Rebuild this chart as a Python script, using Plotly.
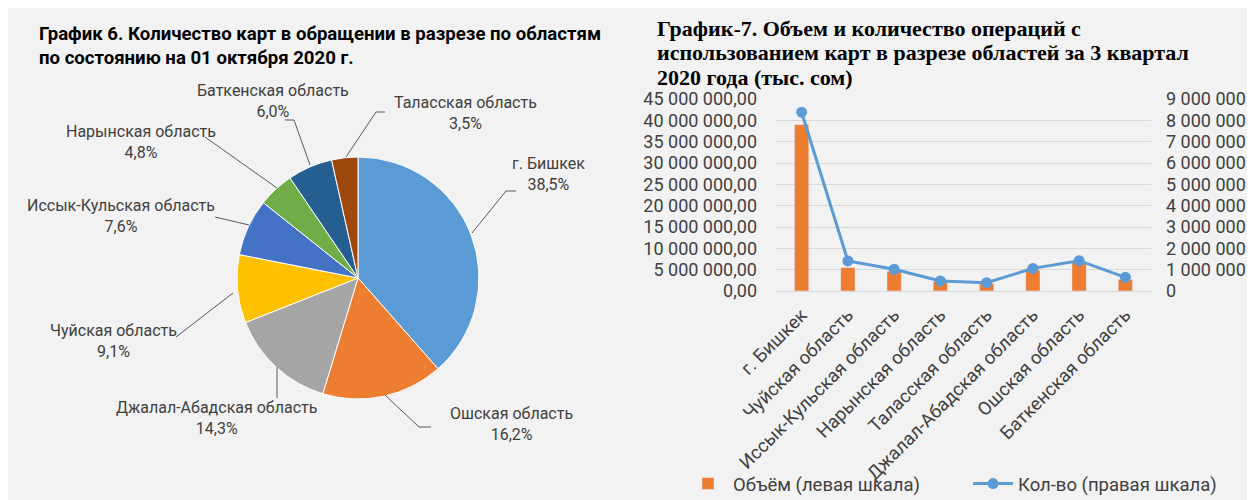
import plotly.graph_objects as go

W, H = 1255, 500
OFF = 8  # page body margin of the viewer

# ---------------- data ----------------
pie_labels = ["г. Бишкек", "Ошская область", "Джалал-Абадская область", "Чуйская область",
              "Иссык-Кульская область", "Нарынская область", "Баткенская область", "Таласская область"]
pie_shares = [38.5, 16.2, 14.3, 9.1, 7.6, 4.8, 6.0, 3.5]
pie_colors = ["#5b9bd5", "#ed7d31", "#a5a5a5", "#ffc000", "#4472c4", "#70ad47", "#255e91", "#9e480e"]

bar_regions = ["г. Бишкек", "Чуйская область", "Иссык-Кульская область", "Нарынская область",
               "Таласская область", "Джалал-Абадская область", "Ошская область", "Баткенская область"]
volume_left = [39000000, 5500000, 4600000, 2200000, 1800000, 4900000, 6900000, 2700000]
count_right = [8380000, 1410000, 1020000, 470000, 390000, 1060000, 1420000, 640000]

title_left_lines = ["График 6. Количество карт в обращении в разрезе по областям",
                    "по состоянию на 01 октября 2020 г."]
title_right_lines = ["График-7. Объем и количество операций с",
                     "использованием карт в разрезе областей за 3 квартал",
                     "2020 года (тыс. сом)"]
legend_bar = "Объём (левая шкала)"
legend_line = "Кол-во (правая шкала)"


def px(x):
    return (x - OFF) / W


def py(y):
    return 1 - (y - OFF) / H


TXT = "#404040"
SANS = "Roboto, Arial, sans-serif"
SERIF = "Liberation Serif, Times New Roman, serif"

fig = go.Figure()

# ---------------- pie ----------------
cx, cy, r = 358, 278, 121
fig.add_trace(go.Pie(
    labels=pie_labels, values=pie_shares, sort=False, direction="clockwise", rotation=0,
    marker=dict(colors=pie_colors, line=dict(color="white", width=1)),
    textinfo="none", showlegend=False, hole=0, automargin=False,
    domain=dict(x=[px(cx - r), px(cx + r)], y=[py(cy + r), py(cy - r)]),
))

# ---------------- bar + line ----------------
fig.add_trace(go.Bar(
    x=bar_regions, y=volume_left, name=legend_bar, marker_color="#ed7d31", width=0.31,
    xaxis="x", yaxis="y",
))
fig.add_trace(go.Scatter(
    x=bar_regions, y=count_right, name=legend_line, mode="lines+markers",
    line=dict(color="#5b9bd5", width=3), marker=dict(color="#5b9bd5", size=11),
    xaxis="x", yaxis="y2",
))

# pie label positions (text centre in px) and leader line paths (px)
label_pos = {
    "г. Бишкек": (548, 174),
    "Ошская область": (511, 424),
    "Джалал-Абадская область": (216, 418),
    "Чуйская область": (113, 341),
    "Иссык-Кульская область": (121, 216),
    "Нарынская область": (141, 142),
    "Баткенская область": (273, 101),
    "Таласская область": (465, 113),
}
leaders = {
    "г. Бишкек": [(516, 191), (506, 191), (472, 233)],
    "Ошская область": [(431, 427), (419, 427), (385, 395)],
    "Джалал-Абадская область": [(277, 398), (277, 367)],
    "Чуйская область": [(176, 337), (233, 293)],
    "Иссык-Кульская область": [(215, 217), (249, 225)],
    "Нарынская область": [(205, 137), (277, 188)],
    "Баткенская область": [(285, 120), (294, 120), (310, 165)],
    "Таласская область": [(385, 112), (376, 112), (346, 157)],
}

annotations = []
shapes = []
for lab, share in zip(pie_labels, pie_shares):
    x, y = label_pos[lab]
    pct = f"{share:.1f}".replace(".", ",") + "%"
    annotations.append(dict(
        text=f"{lab}<br>{pct}", x=px(x), y=py(y), xref="paper", yref="paper",
        showarrow=False, xanchor="center", yanchor="middle",
        font=dict(family=SANS, size=16, color=TXT),
    ))
    pts = leaders[lab]
    path = "M " + " L ".join(f"{px(a)} {py(b)}" for a, b in pts)
    shapes.append(dict(type="path", xref="paper", yref="paper", path=path,
                       line=dict(color="#595959", width=1)))

for line, yy in zip(title_left_lines, [34, 58]):
    annotations.append(dict(
        text=f"<b>{line}</b>", x=px(37), y=py(yy), xref="paper", yref="paper",
        showarrow=False, xanchor="left", yanchor="middle", align="left",
        font=dict(family=SANS, size=18.6, color="#000000"),
    ))
for line, yy in zip(title_right_lines, [28.5, 53, 77.5]):
    annotations.append(dict(
        text=f"<b>{line}</b>", x=px(655), y=py(yy), xref="paper", yref="paper",
        showarrow=False, xanchor="left", yanchor="middle", align="left",
        font=dict(family=SERIF, size=22, color="#000000"),
    ))

fig.update_layout(
    width=W, height=H, autosize=False,
    margin=dict(l=0, r=0, t=0, b=0, pad=0, autoexpand=False),
    paper_bgcolor="#f2f2f2", plot_bgcolor="rgba(0,0,0,0)",
    separators=", ",
    font=dict(family=SANS, color=TXT),
    annotations=annotations, shapes=shapes,
    xaxis=dict(domain=[px(776), px(1151)], anchor="y", tickangle=-45, automargin=False,
               tickfont=dict(family=SANS, size=18.5, color=TXT),
               showline=True, linecolor="#d9d9d9", linewidth=1, ticks="",
               showgrid=False, fixedrange=True, ticklabelstandoff=5),
    yaxis=dict(domain=[py(291), py(99)], range=[0, 45000000], dtick=5000000, automargin=False,
               tickformat=",.2f", showgrid=True, gridcolor="#d9d9d9", gridwidth=1,
               zeroline=False, tickfont=dict(family=SANS, size=18, color=TXT),
               ticklabelstandoff=18),
    yaxis2=dict(overlaying="y", side="right", anchor="x", range=[0, 9000000], dtick=1000000,
                automargin=False,
                tickformat=",d", showgrid=False, zeroline=False,
                tickfont=dict(family=SANS, size=18, color=TXT), ticklabelstandoff=14),
    legend=dict(orientation="h", x=px(683), y=py(484), xanchor="left", yanchor="middle",
                bgcolor="rgba(0,0,0,0)", font=dict(family=SANS, size=18.5, color=TXT),
                entrywidth=230, entrywidthmode="pixels", itemwidth=40),
    bargap=0.5,
)

fig.write_html("out.html")
